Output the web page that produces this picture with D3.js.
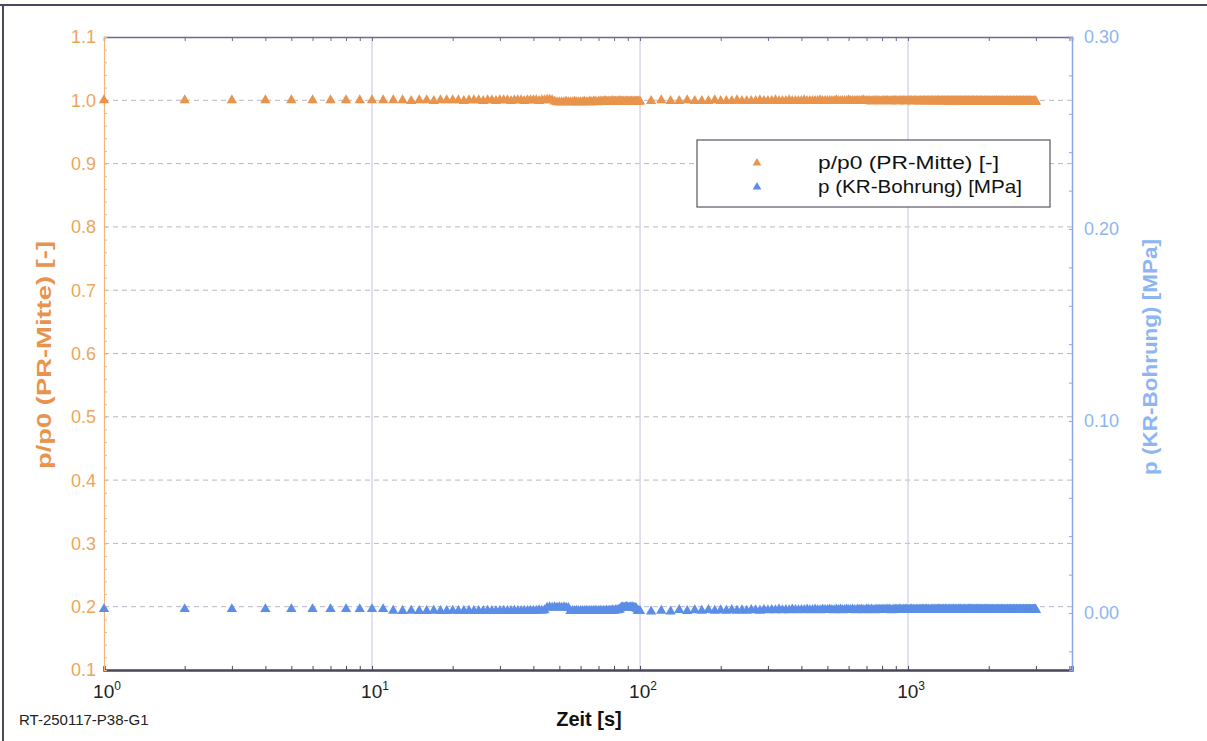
<!DOCTYPE html>
<head>
  <meta charset="UTF-8">
  <style>
    *{ margin: 0px; }
    body{ background-color: white; }
    svg{ position: absolute; font-family: "Liberation Sans", Arial, sans-serif; }
  </style>
  <script src="https://d3js.org/d3.v7.min.js"></script>
</head>
<body>
  <svg id="chart" width="1207" height="741"></svg>
  <script>
    // Zeit [s]
    var zeit = [
      1,2,3,4,5,6,7,8,9,10,
      11,12,13,14,15,16,17,18,19,20,
      21,22,23,24,25,26,27,28,29,30,
      31,32,33,34,35,36,37,38,39,40,
      41,42,43,44,45,46,47,48,49,50,
      51,52,53,54,55,56,57,58,59,60,
      61,62,63,64,65,66,67,68,69,70,
      71,72,73,74,75,76,77,78,79,80,
      81,82,83,84,85,86,87,88,89,90,
      91,92,93,94,95,96,97,98,99,100,
      110,120,130,140,150,160,170,180,190,200,
      210,220,230,240,250,260,270,280,290,300,
      310,320,330,340,350,360,370,380,390,400,
      410,420,430,440,450,460,470,480,490,500,
      510,520,530,540,550,560,570,580,590,600,
      610,620,630,640,650,660,670,680,690,700,
      710,720,730,740,750,760,770,780,790,800,
      810,820,830,840,850,860,870,880,890,900,
      910,920,930,940,950,960,970,980,990,1000,
      1010,1020,1030,1040,1050,1060,1070,1080,1090,1100,
      1110,1120,1130,1140,1150,1160,1170,1180,1190,1200,
      1210,1220,1230,1240,1250,1260,1270,1280,1290,1300,
      1310,1320,1330,1340,1350,1360,1370,1380,1390,1400,
      1410,1420,1430,1440,1450,1460,1470,1480,1490,1500,
      1510,1520,1530,1540,1550,1560,1570,1580,1590,1600,
      1610,1620,1630,1640,1650,1660,1670,1680,1690,1700,
      1710,1720,1730,1740,1750,1760,1770,1780,1790,1800,
      1810,1820,1830,1840,1850,1860,1870,1880,1890,1900,
      1910,1920,1930,1940,1950,1960,1970,1980,1990,2000,
      2010,2020,2030,2040,2050,2060,2070,2080,2090,2100,
      2110,2120,2130,2140,2150,2160,2170,2180,2190,2200,
      2210,2220,2230,2240,2250,2260,2270,2280,2290,2300,
      2310,2320,2330,2340,2350,2360,2370,2380,2390,2400,
      2410,2420,2430,2440,2450,2460,2470,2480,2490,2500,
      2510,2520,2530,2540,2550,2560,2570,2580,2590,2600,
      2610,2620,2630,2640,2650,2660,2670,2680,2690,2700,
      2710,2720,2730,2740,2750,2760,2770,2780,2790,2800,
      2810,2820,2830,2840,2850,2860,2870,2880,2890,2900,
      2910,2920,2930,2940,2950,2960,2970,2980,2990,3000
    ];

    // p/p0 (PR-Mitte) [-]
    var pMitte = [
      1.000,1.000,1.000,1.000,1.000,1.000,1.000,1.000,1.000,1.000,
      1.000,1.000,1.000,0.999,1.000,1.000,0.999,1.000,1.000,1.000,
      1.000,0.999,1.000,1.000,1.000,0.999,1.000,1.000,0.999,1.000,
      1.000,1.000,0.999,1.000,1.000,1.000,0.999,1.000,1.000,1.000,
      1.000,0.999,1.000,1.000,1.001,1.001,1.000,0.998,0.997,0.997,
      0.997,0.997,0.998,0.997,0.997,0.997,0.998,0.997,0.997,0.997,
      0.997,0.998,0.997,0.997,0.998,0.997,0.998,0.998,0.997,0.998,
      0.998,0.998,0.998,0.999,0.998,0.998,0.998,0.998,0.999,0.998,
      0.998,0.998,0.998,0.999,0.998,0.998,0.998,0.998,0.998,0.998,
      0.998,0.998,0.998,0.998,0.998,0.998,0.998,0.998,0.998,0.998,
      0.999,1.000,0.999,0.999,1.000,0.999,0.999,0.999,1.000,0.999,
      0.999,0.999,1.000,0.999,0.999,0.999,0.999,1.000,0.999,0.999,
      0.999,1.000,0.999,0.999,0.999,1.000,0.999,0.999,0.999,0.999,
      1.000,0.999,0.999,0.999,0.999,0.999,1.000,0.999,0.999,0.999,
      0.999,0.999,0.999,1.000,0.999,0.999,0.999,0.999,0.999,1.000,
      0.999,0.999,0.999,0.999,0.999,0.999,0.999,1.000,0.999,0.999,
      0.999,0.999,0.998,0.999,0.999,0.999,0.999,0.999,0.998,0.999,
      0.999,0.999,0.999,0.999,0.999,0.998,0.999,0.999,0.999,0.999,
      0.999,0.998,0.999,0.999,0.999,0.999,0.999,0.998,0.999,0.999,
      0.999,0.999,0.999,0.998,0.999,0.999,0.999,0.999,0.998,0.999,
      0.999,0.999,0.998,0.999,0.999,0.999,0.998,0.999,0.999,0.999,
      0.998,0.999,0.999,0.999,0.998,0.999,0.999,0.998,0.999,0.999,
      0.999,0.998,0.999,0.999,0.999,0.998,0.999,0.999,0.998,0.999,
      0.998,0.999,0.999,0.998,0.999,0.999,0.998,0.999,0.999,0.998,
      0.999,0.999,0.998,0.999,0.998,0.999,0.999,0.998,0.999,0.998,
      0.999,0.998,0.999,0.999,0.998,0.999,0.998,0.999,0.998,0.999,
      0.998,0.999,0.998,0.999,0.999,0.998,0.999,0.998,0.998,0.999,
      0.998,0.999,0.998,0.998,0.999,0.998,0.999,0.998,0.999,0.998,
      0.998,0.998,0.999,0.998,0.998,0.999,0.998,0.998,0.999,0.998,
      0.998,0.999,0.998,0.998,0.998,0.999,0.998,0.998,0.998,0.999,
      0.998,0.998,0.998,0.999,0.998,0.998,0.998,0.998,0.999,0.998,
      0.998,0.998,0.999,0.998,0.998,0.998,0.998,0.999,0.998,0.998,
      0.998,0.998,0.998,0.998,0.999,0.998,0.998,0.998,0.998,0.998,
      0.999,0.998,0.998,0.998,0.998,0.998,0.998,0.999,0.998,0.998,
      0.998,0.998,0.998,0.999,0.998,0.998,0.998,0.998,0.998,0.998,
      0.998,0.999,0.998,0.998,0.998,0.998,0.998,0.998,0.999,0.998,
      0.998,0.998,0.998,0.998,0.998,0.999,0.998,0.998,0.998,0.998,
      0.998,0.998,0.999,0.998,0.998,0.998,0.998,0.998,0.998,0.998,
      0.998,0.998,0.998,0.998,0.998,0.998,0.999,0.998,0.998,0.998
    ];

    // p (KR-Bohrung) [MPa]
    var pBohrung = [
      0.0020,0.0020,0.0020,0.0020,0.0020,0.0020,0.0020,0.0020,0.0020,0.0020,
      0.0020,0.0012,0.0010,0.0012,0.0010,0.0010,0.0012,0.0010,0.0010,0.0012,
      0.0010,0.0010,0.0012,0.0010,0.0010,0.0010,0.0012,0.0010,0.0010,0.0010,
      0.0012,0.0010,0.0010,0.0012,0.0010,0.0010,0.0012,0.0010,0.0012,0.0012,
      0.0012,0.0014,0.0012,0.0014,0.0028,0.0030,0.0028,0.0030,0.0028,0.0030,
      0.0028,0.0030,0.0028,0.0026,0.0010,0.0010,0.0010,0.0012,0.0010,0.0010,
      0.0010,0.0010,0.0012,0.0010,0.0010,0.0010,0.0010,0.0012,0.0010,0.0010,
      0.0012,0.0010,0.0010,0.0010,0.0012,0.0010,0.0012,0.0012,0.0014,0.0012,
      0.0014,0.0014,0.0016,0.0018,0.0028,0.0030,0.0028,0.0030,0.0032,0.0030,
      0.0028,0.0030,0.0028,0.0030,0.0028,0.0026,0.0022,0.0012,0.0010,0.0010,
      0.0008,0.0012,0.0008,0.0016,0.0010,0.0014,0.0012,0.0016,0.0012,0.0014,
      0.0012,0.0016,0.0012,0.0014,0.0012,0.0016,0.0014,0.0012,0.0016,0.0014,
      0.0016,0.0014,0.0018,0.0014,0.0016,0.0014,0.0018,0.0016,0.0014,0.0016,
      0.0016,0.0018,0.0014,0.0016,0.0018,0.0016,0.0014,0.0018,0.0016,0.0016,
      0.0018,0.0016,0.0014,0.0018,0.0016,0.0018,0.0014,0.0016,0.0018,0.0016,
      0.0016,0.0018,0.0016,0.0014,0.0018,0.0016,0.0018,0.0016,0.0014,0.0018,
      0.0018,0.0016,0.0018,0.0016,0.0014,0.0018,0.0016,0.0018,0.0016,0.0018,
      0.0016,0.0018,0.0016,0.0018,0.0018,0.0016,0.0014,0.0018,0.0016,0.0018,
      0.0018,0.0016,0.0018,0.0018,0.0016,0.0018,0.0016,0.0018,0.0018,0.0016,
      0.0016,0.0018,0.0018,0.0016,0.0018,0.0016,0.0018,0.0018,0.0016,0.0018,
      0.0018,0.0016,0.0018,0.0018,0.0016,0.0018,0.0018,0.0016,0.0018,0.0016,
      0.0016,0.0018,0.0016,0.0018,0.0018,0.0016,0.0018,0.0016,0.0018,0.0018,
      0.0018,0.0016,0.0018,0.0016,0.0018,0.0018,0.0016,0.0018,0.0018,0.0016,
      0.0016,0.0018,0.0018,0.0016,0.0018,0.0016,0.0018,0.0018,0.0016,0.0018,
      0.0018,0.0016,0.0016,0.0018,0.0018,0.0016,0.0018,0.0016,0.0018,0.0016,
      0.0016,0.0018,0.0018,0.0016,0.0016,0.0018,0.0016,0.0018,0.0018,0.0016,
      0.0018,0.0016,0.0018,0.0016,0.0018,0.0016,0.0016,0.0018,0.0016,0.0018,
      0.0016,0.0018,0.0016,0.0016,0.0018,0.0016,0.0018,0.0016,0.0016,0.0018,
      0.0016,0.0016,0.0018,0.0016,0.0016,0.0018,0.0016,0.0016,0.0018,0.0016,
      0.0016,0.0018,0.0016,0.0016,0.0016,0.0018,0.0016,0.0016,0.0018,0.0016,
      0.0016,0.0016,0.0016,0.0018,0.0016,0.0016,0.0016,0.0018,0.0016,0.0016,
      0.0016,0.0016,0.0018,0.0016,0.0016,0.0016,0.0016,0.0018,0.0016,0.0016,
      0.0016,0.0016,0.0016,0.0016,0.0018,0.0016,0.0016,0.0016,0.0016,0.0016,
      0.0018,0.0016,0.0016,0.0016,0.0016,0.0016,0.0016,0.0018,0.0016,0.0016,
      0.0016,0.0016,0.0016,0.0018,0.0016,0.0016,0.0016,0.0016,0.0016,0.0016,
      0.0016,0.0018,0.0016,0.0016,0.0016,0.0016,0.0016,0.0016,0.0018,0.0016,
      0.0016,0.0016,0.0016,0.0016,0.0016,0.0018,0.0016,0.0016,0.0016,0.0016,
      0.0016,0.0016,0.0018,0.0016,0.0016,0.0016,0.0016,0.0016,0.0016,0.0016,
      0.0016,0.0016,0.0016,0.0016,0.0016,0.0016,0.0018,0.0016,0.0016,0.0016
    ];

    var leftTicks = [0.1,0.2,0.3,0.4,0.5,0.6,0.7,0.8,0.9,1.0,1.1];
    var rightTicks = [0.00,0.10,0.20,0.30];
    var xDecades = [1,10,100,1000];
    var seriesNames = ["p/p0 (PR-Mitte) [-]", "p (KR-Bohrung) [MPa]"];

    var orange = "#e8944c", blue = "#5b8ee6";
    var orangeText = "#eca65a", blueText = "#8db5f2";

    var svg = d3.select("#chart");
    var plot = {left: 104, right: 1072, top: 37, bottom: 670};

    var x = d3.scaleLog().domain([1, 4090]).range([plot.left, plot.right]);
    var yL = d3.scaleLinear().domain([0.1, 1.1]).range([plot.bottom, plot.top]);
    var yR = d3.scaleLinear().domain([-0.0297, 0.30]).range([plot.bottom, plot.top]);

    // outer frame (top and left edge of the page)
    svg.append("line").attr("x1", 0).attr("x2", 1207).attr("y1", 5).attr("y2", 5)
      .attr("stroke", "#4d4860").attr("stroke-width", 2);
    svg.append("line").attr("x1", 3).attr("x2", 3).attr("y1", 5).attr("y2", 741)
      .attr("stroke", "#4d4860").attr("stroke-width", 2);

    // horizontal dashed grid
    svg.append("g")
      .selectAll("line")
      .data(leftTicks.filter(d => d > 0.15 && d < 1.05))
      .enter()
      .append("line")
      .attr("x1", plot.left).attr("x2", plot.right)
      .attr("y1", d => yL(d)).attr("y2", d => yL(d))
      .attr("stroke", "#b9b6c6").attr("stroke-width", 1)
      .attr("stroke-dasharray", "5,4");

    // vertical decade grid
    svg.append("g")
      .selectAll("line")
      .data(xDecades.slice(1))
      .enter()
      .append("line")
      .attr("x1", d => x(d)).attr("x2", d => x(d))
      .attr("y1", plot.top).attr("y2", plot.bottom)
      .attr("stroke", "#d3cbe6").attr("stroke-width", 1.2);

    // x axes (top + bottom) with log minor ticks
    var minor = x.ticks().filter(d => d < 4090);
    var xTop = d3.axisTop(x).tickValues(minor).tickSize(-4).tickFormat("");
    var xBot = d3.axisBottom(x).tickValues(minor).tickSize(-4).tickFormat("");
    var gTop = svg.append("g").attr("transform", "translate(0," + plot.top + ")").call(xTop);
    gTop.select(".domain").attr("stroke", "#6e6890").attr("stroke-width", 1.5);
    gTop.selectAll(".tick line").attr("stroke", "#6e6890");
    var gBot = svg.append("g").attr("transform", "translate(0," + plot.bottom + ")").call(xBot);
    gBot.select(".domain").attr("stroke", "#4a4658").attr("stroke-width", 2.5);
    gBot.selectAll(".tick line").attr("stroke", "#4a4658");

    // x tick labels 10^n
    var xl = svg.append("g")
      .selectAll("text")
      .data(xDecades)
      .enter()
      .append("text")
      .attr("x", d => x(d) + 3).attr("y", 698)
      .attr("text-anchor", "middle")
      .attr("font-size", "19px").attr("fill", "#222");
    xl.append("tspan").text("10");
    xl.append("tspan").attr("dy", -8).attr("font-size", "12px").text(d => Math.round(Math.log10(d)));

    // left axis
    var gL = svg.append("g").attr("transform", "translate(" + plot.left + ",0)")
      .call(d3.axisLeft(yL).tickValues(d3.range(0.1, 1.101, 0.02)).tickSize(-3).tickFormat(""));
    gL.select(".domain").attr("stroke", "#f2b57a").attr("stroke-width", 1.2);
    gL.selectAll(".tick line").attr("stroke", "#f2b57a");
    svg.append("g")
      .selectAll("text")
      .data(leftTicks)
      .enter()
      .append("text")
      .attr("x", 96).attr("y", d => yL(d))
      .attr("dy", "0.36em").attr("text-anchor", "end")
      .attr("font-size", "18px").attr("fill", orangeText)
      .text(d => d3.format(".1f")(d));

    // right axis
    var gR = svg.append("g").attr("transform", "translate(" + plot.right + ",0)")
      .call(d3.axisRight(yR).tickValues(d3.range(-0.02, 0.301, 0.02)).tickSize(-3).tickFormat(""));
    gR.select(".domain").attr("stroke", "#8fa6e6").attr("stroke-width", 1.5);
    gR.selectAll(".tick line").attr("stroke", "#8fa6e6");
    svg.append("g")
      .selectAll("text")
      .data(rightTicks)
      .enter()
      .append("text")
      .attr("x", 1084).attr("y", d => yR(d))
      .attr("dy", "0.36em")
      .attr("font-size", "18px").attr("fill", blueText)
      .text(d => d3.format(".2f")(d));

    // data points
    var tri = d3.symbol().type(d3.symbolTriangle).size(46);
    var data = zeit.map((t, i) => ({t: t, a: pMitte[i], b: pBohrung[i]}));

    svg.append("g")
      .selectAll("path")
      .data(data)
      .enter()
      .append("path")
      .attr("d", tri)
      .attr("transform", d => "translate(" + x(d.t) + "," + yL(d.a) + ")")
      .attr("fill", orange);

    svg.append("g")
      .selectAll("path")
      .data(data)
      .enter()
      .append("path")
      .attr("d", tri)
      .attr("transform", d => "translate(" + x(d.t) + "," + yR(d.b) + ")")
      .attr("fill", blue);

    // legend
    var legend = svg.append("g").attr("transform", "translate(697,140)");
    legend.append("rect").attr("width", 353).attr("height", 67)
      .attr("fill", "white").attr("stroke", "#5a5566").attr("stroke-width", 1.2);
    legend.selectAll("path")
      .data([orange, blue])
      .enter()
      .append("path")
      .attr("d", d3.symbol().type(d3.symbolTriangle).size(32))
      .attr("transform", (d, i) => "translate(60," + (23 + i * 24) + ")")
      .attr("fill", d => d);
    legend.selectAll("text")
      .data(seriesNames)
      .enter()
      .append("text")
      .attr("x", 121).attr("y", (d, i) => 29 + i * 24)
      .attr("font-size", "19px").attr("fill", "#111")
      .attr("textLength", (d, i) => i === 0 ? 181 : 204)
      .attr("lengthAdjust", "spacingAndGlyphs")
      .text(d => d);

    // axis titles
    svg.append("text")
      .attr("transform", "translate(51,355) rotate(-90)")
      .attr("text-anchor", "middle")
      .attr("font-size", "21px").attr("font-weight", "bold").attr("fill", orange)
      .attr("textLength", 228).attr("lengthAdjust", "spacingAndGlyphs")
      .text(seriesNames[0]);
    svg.append("text")
      .attr("transform", "translate(1157,357) rotate(-90)")
      .attr("text-anchor", "middle")
      .attr("font-size", "21px").attr("font-weight", "bold").attr("fill", blueText)
      .attr("textLength", 236).attr("lengthAdjust", "spacingAndGlyphs")
      .text(seriesNames[1]);
    svg.append("text")
      .attr("x", 589).attr("y", 726)
      .attr("text-anchor", "middle")
      .attr("font-size", "20px").attr("font-weight", "bold").attr("fill", "#111")
      .text("Zeit [s]");
    svg.append("text")
      .attr("x", 19).attr("y", 725)
      .attr("font-size", "15px").attr("fill", "#222")
      .text("RT-250117-P38-G1");
  </script>
</body>
